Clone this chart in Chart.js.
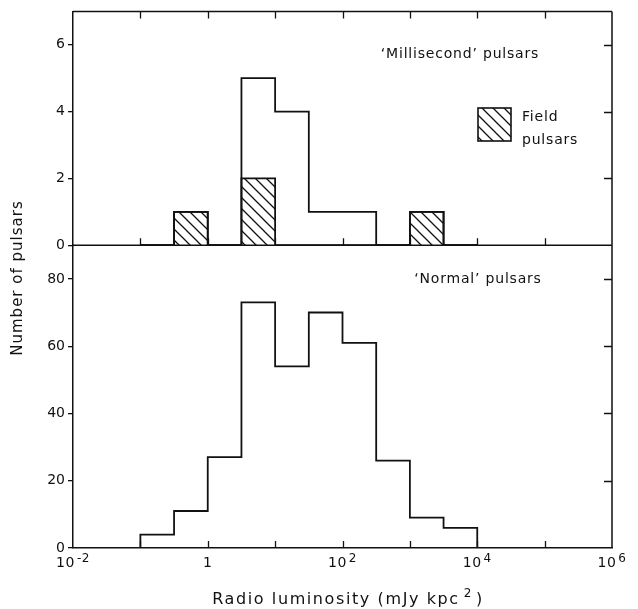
<!DOCTYPE html>
<html>
<head>
<meta charset="utf-8">
<script src="https://cdn.jsdelivr.net/npm/chart.js@4.4.1/dist/chart.umd.min.js"></script>
<style>
  html, body { margin: 0; padding: 0; background: #fff; }
  #wrap { width: 638px; height: 609px; }
</style>
</head>
<body>
<div id="wrap"><canvas id="chart" width="638" height="609"></canvas></div>
<script>
// bin edges as log10(luminosity), half-decade bins
const binEdgesExp = [-1, -0.5, 0, 0.5, 1, 1.5, 2, 2.5, 3, 3.5, 4];
const normalCounts = [4, 11, 27, 73, 54, 70, 61, 26, 9, 6];
const msecCounts   = [0, 1, 0, 5, 4, 1, 1, 0, 1, 0];
const fieldCounts  = [0, 1, 0, 2, 0, 0, 0, 0, 1, 0];

const xTickExps = [-2, -1, 0, 1, 2, 3, 4, 5, 6];
const xLabelExps = [-2, 0, 2, 4, 6];
const xLabelBase = ["10", "1", "10", "10", "10"];
const xLabelSup  = ["-2", "", "2", "4", "6"];

const topTicks = [0, 2, 4, 6];
const botTicks = [0, 20, 40, 60, 80];

const INK = "#111";
const FONT = "'DejaVu Sans', 'Liberation Sans', sans-serif";

// points for a stepped outline: vertical up at first edge, flat tops, down at last edge
function stepPoints(counts) {
  const pts = [{ x: 10 ** binEdgesExp[0], y: 0 }];
  counts.forEach((c, i) => pts.push({ x: 10 ** binEdgesExp[i], y: c }));
  pts.push({ x: 10 ** binEdgesExp[binEdgesExp.length - 1], y: 0 });
  return pts;
}

function makeHatch(ctx) {
  const s = 11;
  const c = document.createElement("canvas");
  c.width = s; c.height = s;
  const g = c.getContext("2d");
  g.strokeStyle = INK;
  g.lineWidth = 1.3;
  g.beginPath();
  g.moveTo(-2, -2); g.lineTo(s + 2, s + 2);
  g.moveTo(-2, s - 2); g.lineTo(2, s + 2);
  g.moveTo(s - 2, -2); g.lineTo(s + 2, 2);
  g.stroke();
  return ctx.createPattern(c, "repeat");
}

function spaced(ctx, px) {
  if ("letterSpacing" in ctx) ctx.letterSpacing = px + "px";
}

const decorations = {
  id: "decorations",
  afterDraw(chart) {
    const { ctx, chartArea: a, scales } = chart;
    const x = scales.x, yTop = scales.yTop, yBot = scales.yBot;
    const mid = yTop.getPixelForValue(0);
    ctx.save();
    ctx.strokeStyle = INK;
    ctx.fillStyle = INK;
    ctx.lineWidth = 1.5;

    // frame: top, right, divider
    ctx.beginPath();
    ctx.moveTo(a.left, a.top); ctx.lineTo(a.right, a.top);
    ctx.moveTo(a.right, a.top); ctx.lineTo(a.right, a.bottom);
    ctx.moveTo(a.left, mid); ctx.lineTo(a.right, mid);
    ctx.stroke();

    // inward x ticks
    ctx.lineWidth = 1.3;
    ctx.beginPath();
    xTickExps.slice(1, -1).forEach(e => {
      const px = Math.round(x.getPixelForValue(10 ** e)) + 0.5;
      ctx.moveTo(px, a.top); ctx.lineTo(px, a.top + 7);
      ctx.moveTo(px, mid); ctx.lineTo(px, mid - 7);
      ctx.moveTo(px, a.bottom); ctx.lineTo(px, a.bottom - 7);
    });
    // inward right ticks
    topTicks.slice(1).forEach(v => {
      const py = Math.round(yTop.getPixelForValue(v)) + 0.5;
      ctx.moveTo(a.right, py); ctx.lineTo(a.right - 8, py);
    });
    botTicks.slice(1).forEach(v => {
      const py = Math.round(yBot.getPixelForValue(v)) + 0.5;
      ctx.moveTo(a.right, py); ctx.lineTo(a.right - 8, py);
    });
    ctx.stroke();

    // x tick labels with superscripts
    ctx.textBaseline = "alphabetic";
    ctx.textAlign = "left";
    xLabelExps.forEach((e, i) => {
      const px = x.getPixelForValue(10 ** e);
      spaced(ctx, 0.5);
      ctx.font = "14px " + FONT;
      const wb = ctx.measureText(xLabelBase[i]).width;
      ctx.font = "12px " + FONT;
      const ws = xLabelSup[i] ? ctx.measureText(xLabelSup[i]).width + 2 : 0;
      const x0 = px - (wb + ws) / 2;
      ctx.font = "14px " + FONT;
      ctx.fillText(xLabelBase[i], x0, a.bottom + 19);
      if (xLabelSup[i]) {
        ctx.font = "12px " + FONT;
        ctx.fillText(xLabelSup[i], x0 + wb + 2, a.bottom + 14);
      }
    });

    // x axis title
    spaced(ctx, 1.6);
    ctx.font = "16px " + FONT;
    const t1 = "Radio luminosity (mJy kpc";
    const w1 = ctx.measureText(t1).width;
    ctx.font = "12px " + FONT;
    const w2 = ctx.measureText("2").width;
    ctx.font = "16px " + FONT;
    const w3 = ctx.measureText(")").width;
    const total = w1 + 4 + w2 + 3 + w3;
    let tx = 348 - total / 2;
    const ty = a.bottom + 56;
    ctx.fillText(t1, tx, ty);
    tx += w1 + 4;
    ctx.font = "12px " + FONT;
    ctx.fillText("2", tx, ty - 7);
    tx += w2 + 3;
    ctx.font = "16px " + FONT;
    ctx.fillText(")", tx, ty);

    // y axis title
    ctx.save();
    ctx.translate(18, 278);
    ctx.rotate(-Math.PI / 2);
    ctx.textAlign = "center";
    ctx.textBaseline = "middle";
    spaced(ctx, 1);
    ctx.font = "15px " + FONT;
    ctx.fillText("Number of pulsars", 0, 0);
    ctx.restore();

    // panel captions
    ctx.textAlign = "center";
    ctx.textBaseline = "middle";
    spaced(ctx, 0.8);
    ctx.font = "14px " + FONT;
    ctx.fillText("\u2018Millisecond\u2019 pulsars", 460, 54);
    ctx.fillText("\u2018Normal\u2019 pulsars", 478, 279);

    // legend for field pulsars
    ctx.fillStyle = chart.data.datasets[2].backgroundColor;
    ctx.fillRect(478, 108, 33, 33);
    ctx.lineWidth = 1.6;
    ctx.strokeRect(478, 108, 33, 33);
    ctx.fillStyle = INK;
    ctx.textAlign = "left";
    ctx.fillText("Field", 522, 117);
    ctx.fillText("pulsars", 522, 140);
    ctx.restore();
  }
};

const canvas = document.getElementById("chart");
const hatch = makeHatch(canvas.getContext("2d"));

const tickFont = { family: FONT, size: 14 };

new Chart(canvas, {
  type: "line",
  data: {
    datasets: [
      { label: "Normal pulsars", data: stepPoints(normalCounts), yAxisID: "yBot",
        stepped: "before", borderColor: INK, borderWidth: 1.8, pointRadius: 0, fill: false },
      { label: "Millisecond pulsars", data: stepPoints(msecCounts), yAxisID: "yTop",
        stepped: "before", borderColor: INK, borderWidth: 1.8, pointRadius: 0, fill: false },
      { label: "Field pulsars", data: stepPoints(fieldCounts), yAxisID: "yTop",
        stepped: "before", borderColor: INK, borderWidth: 1.8, pointRadius: 0,
        fill: "origin", backgroundColor: hatch }
    ]
  },
  options: {
    responsive: false,
    animation: false,
    layout: { padding: { top: 11, right: 26, left: 0, bottom: 0 } },
    plugins: { legend: { display: false }, tooltip: { enabled: false } },
    scales: {
      x: {
        type: "logarithmic", min: 1e-2, max: 1e6,
        afterBuildTicks: s => { s.ticks = xTickExps.map(e => ({ value: 10 ** e })); },
        afterFit: s => { s.height = 61; },
        ticks: { display: false },
        grid: { display: false },
        border: { display: true, color: INK, width: 1.5 }
      },
      // stacked scales are laid out in reverse key order: yBot first puts it at the bottom
      yBot: {
        type: "linear", position: "left", stack: "panels", stackWeight: 303,
        min: 0, max: 90,
        afterBuildTicks: s => { s.ticks = botTicks.map(v => ({ value: v })); },
        afterFit: s => { s.width = 73; },
        ticks: { color: INK, font: tickFont, padding: 3 },
        grid: { drawOnChartArea: false, drawTicks: true, tickLength: 5, color: INK, lineWidth: 1.3 },
        border: { display: true, color: INK, width: 1.5 }
      },
      yTop: {
        type: "linear", position: "left", stack: "panels", stackWeight: 234,
        min: 0, max: 7,
        afterBuildTicks: s => { s.ticks = topTicks.map(v => ({ value: v })); },
        afterFit: s => { s.width = 73; },
        ticks: { color: INK, font: tickFont, padding: 3 },
        grid: { drawOnChartArea: false, drawTicks: true, tickLength: 5, color: INK, lineWidth: 1.3 },
        border: { display: true, color: INK, width: 1.5 }
      }
    }
  },
  plugins: [decorations]
});
</script>
</body>
</html>
